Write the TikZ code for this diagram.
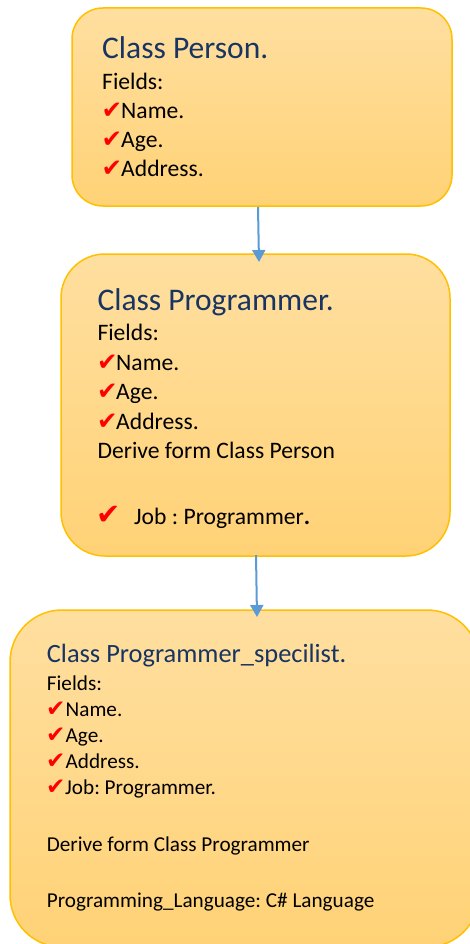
\documentclass[tikz,border=0pt]{standalone}
\usepackage{fontspec}
\setmainfont{Carlito}
\newfontfamily\symfont{DejaVu Sans}
\usetikzlibrary{arrows.meta}
\frenchspacing
\definecolor{boxtop}{RGB}{255,223,160}
\definecolor{boxbot}{RGB}{255,210,118}
\definecolor{boxline}{RGB}{255,192,0}
\definecolor{titleblue}{RGB}{23,52,98}
\definecolor{arrowblue}{RGB}{91,155,213}
\begin{document}
\begin{tikzpicture}[x=1pt,y=-1pt,
  classbox/.style={shade, top color=boxtop, bottom color=boxbot, draw=boxline, line width=1.5pt, inner sep=0pt},
  ttlA/.style={anchor=base west, inner sep=0pt, text=titleblue, font=\fontsize{31.5}{38}\selectfont},
  ttlB/.style={anchor=base west, inner sep=0pt, text=titleblue, font=\fontsize{26.4}{32}\selectfont},
  txtA/.style={anchor=base west, inner sep=0pt, text=black, font=\fontsize{23.6}{28}\selectfont},
  txtB/.style={anchor=base west, inner sep=0pt, text=black, font=\fontsize{21.2}{26}\selectfont},
  chkA/.style={anchor=base west, inner sep=0pt, text=red, font=\symfont\fontsize{24.5}{28}\selectfont},
  chkB/.style={anchor=base west, inner sep=0pt, text=red, font=\symfont\fontsize{23}{26}\selectfont},
  chkC/.style={anchor=base west, inner sep=0pt, text=red, font=\symfont\fontsize{29}{32}\selectfont},
  conn/.style={draw=arrowblue, line width=2pt, -{Triangle[width=13pt,length=12pt]}}
]
\useasboundingbox (0,0) rectangle (470,944);
\clip (0,0) rectangle (470,944);

% boxes
\node[classbox, rounded corners=31pt, minimum width=380pt, minimum height=198pt] (b1) at (262,107) {};
\node[classbox, rounded corners=44pt, minimum width=389pt, minimum height=302pt] (b2) at (255.5,405) {};
\node[classbox, rounded corners=52pt, minimum width=469pt, minimum height=337pt] (b3) at (244.5,778.5) {};

% box 1 text
\node[ttlA] (t1) at (102,58.3) {Class Person.};
\node[txtA] (f1) at (102,90) {Fields:};
\node[chkA] (c11) at (101.5,119) {✔};
\node[txtA] (n1) at (121,119) {Name.};
\node[chkA] (c12) at (101.5,148) {✔};
\node[txtA] (g1) at (121,148) {Age.};
\node[chkA] (c13) at (101.5,176.7) {✔};
\node[txtA] (a1) at (121,176.7) {Address.};

% box 2 text
\node[ttlA] (t2) at (97.3,310) {Class Programmer.};
\node[txtA] (f2) at (97.3,340.7) {Fields:};
\node[chkA] (c21) at (97,370) {✔};
\node[txtA] (n2) at (116,370) {Name.};
\node[chkA] (c22) at (97,399.3) {✔};
\node[txtA] (g2) at (116,399.3) {Age.};
\node[chkA] (c23) at (97,429) {✔};
\node[txtA] (a2) at (116,429) {Address.};
\node[txtA] (d2) at (97.3,458.3) {Derive form Class Person};
\node[chkC] (c24) at (96.5,524) {✔};
\node[txtA] (j2) at (134,524) {Job : Programmer\textbf{.}};

% box 3 text
\node[ttlB] (t3) at (46.7,662.7) {Class Programmer\_specilist.};
\node[txtB] (f3) at (46.7,690) {Fields:};
\node[chkB] (c31) at (46,716.7) {✔};
\node[txtB] (n3) at (65.5,716.7) {Name.};
\node[chkB] (c32) at (46,742.3) {✔};
\node[txtB] (g3) at (65.5,742.3) {Age.};
\node[chkB] (c33) at (46,768.3) {✔};
\node[txtB] (a3) at (65.5,768.3) {Address.};
\node[chkB] (c34) at (46,794) {✔};
\node[txtB] (j3) at (65,794) {Job: Programmer.};
\node[txtB] (d3) at (46.7,851.7) {Derive form Class Programmer};
\node[txtB] (p3) at (46.7,907.7) {Programming\_Language: C\# Language};

% connectors
\coordinate (s1) at (258,207);
\coordinate (e1) at (259,262);
\coordinate (s2) at (256,555);
\coordinate (e2) at (257,617);
\draw[conn] (s1) -- (e1);
\draw[conn] (s2) -- (e2);
\end{tikzpicture}
\end{document}
